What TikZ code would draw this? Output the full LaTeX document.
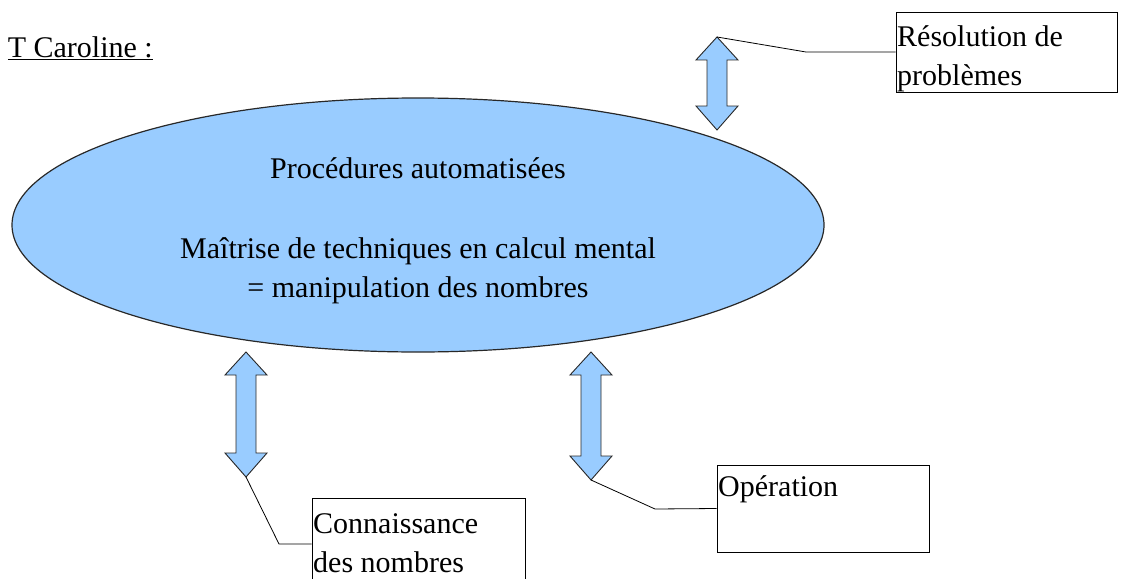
\documentclass[tikz,border=0pt]{standalone}
\usepackage{fontspec}
\setmainfont{Liberation Serif}
\usetikzlibrary{shapes.geometric}
\definecolor{fillblue}{RGB}{153,204,255}
\definecolor{edgegray}{RGB}{40,40,40}
\newcommand\dblarrow[4]{%
  \draw[arrowshape] (#2,#3) -- (#2+21,#3+23) -- (#2+10,#3+23) -- (#2+10,#4-24)
    -- (#2+21,#4-24) -- (#2,#4) -- (#2-21,#4-24) -- (#2-10,#4-24)
    -- (#2-10,#3+23) -- (#2-21,#3+23) -- cycle;
  \coordinate (#1top) at (#2,#3);
  \coordinate (#1bot) at (#2,#4);}
\begin{document}
\begin{tikzpicture}[x=1pt,y=-1pt,
  font=\fontsize{30}{39}\selectfont,
  arrowshape/.style={fill=fillblue,draw=edgegray,line width=0.9pt,line join=miter},
  labelbox/.style={draw=black,line width=0.8pt,inner sep=0pt,fill=white},
  boxtext/.style={anchor=base west,inner sep=0pt,align=left},
  leader/.style={draw=black,line width=0.8pt}]
\useasboundingbox (0,0) rectangle (1134,578);
\begin{scope}
\clip (0,0) rectangle (1134,578);
% title
\node[anchor=base east,inner sep=0pt] (title) at (153,57) {\underline{T Caroline :}};
% ellipse
\node[ellipse,draw=edgegray,fill=fillblue,line width=1.2pt,minimum width=812pt,minimum height=254pt,inner sep=0pt] (ell) at (418,225) {};
\node[anchor=base,inner sep=0pt] (t1) at (418,178) {Procédures automatisées};
\node[anchor=base,inner sep=0pt] (t2) at (418,258) {Maîtrise de techniques en calcul mental};
\node[anchor=base,inner sep=0pt] (t3) at (418,297) {= manipulation des nombres};
% arrows
\dblarrow{a}{717}{37}{130}
\dblarrow{b}{246}{352}{477}
\dblarrow{c}{591}{352}{480}
% boxes
\node[labelbox,minimum width=221pt,minimum height=80pt] (res) at (1006.5,52) {};
\node[boxtext] (restxt) at (897,47) {Résolution de};
\node[boxtext] (restxt2) at (897,85) {problèmes};
\node[labelbox,minimum width=212pt,minimum height=87pt] (ope) at (823,508.5) {};
\node[boxtext] (opetxt) at (718,496) {Opération};
\node[labelbox,minimum width=213pt,minimum height=92pt] (con) at (418.5,544) {};
\node[boxtext] (contxt) at (313,533) {Connaissance};
\node[boxtext] (contxt2) at (313,572) {des nombres};
% leaders
\draw[leader] (atop) -- (806,52) -- (res.west);
\draw[leader] (bbot) -- (279,544) -- (con.west);
\draw[leader] (cbot) -- (655,509) -- (ope.west);
\end{scope}
\end{tikzpicture}
\end{document}
